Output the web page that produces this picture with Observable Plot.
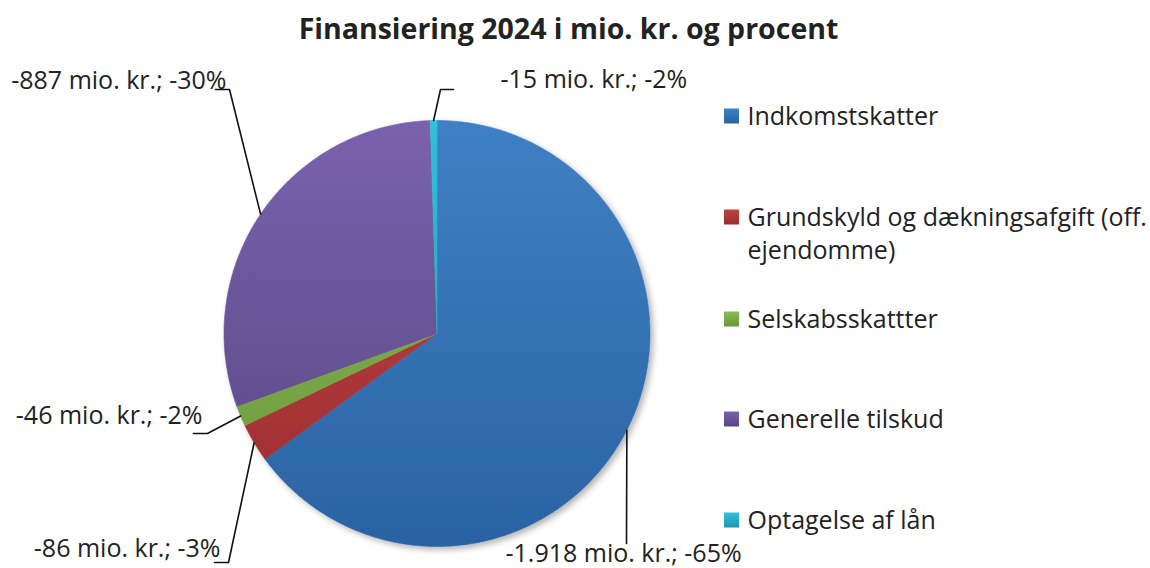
<!DOCTYPE html>
<html><head><meta charset="utf-8">
<script src="https://cdn.jsdelivr.net/npm/d3@7"></script>
<script src="https://cdn.jsdelivr.net/npm/@observablehq/plot@0.6"></script>
<style>body{margin:0;background:#fff} svg{display:block}</style>
</head><body><div id="chart"></div>
<script>
// ---- data ----
const title = "Finansiering 2024 i mio. kr. og procent";
const categories = ["Indkomstskatter", "Grundskyld og dækningsafgift (off.\nejendomme)", "Selskabsskattter", "Generelle tilskud", "Optagelse af lån"];
const values = [-1918, -86, -46, -887, -15];
const labels = ["-1.918 mio. kr.; -65%", "-86 mio. kr.; -3%", "-46 mio. kr.; -2%", "-887 mio. kr.; -30%", "-15 mio. kr.; -2%"];
const colorsTop = ["#3f80c4", "#c24241", "#89bc52", "#7a62ad", "#30c0dc"];
const colorsBottom = ["#2a63a3", "#9a2e30", "#6a963c", "#574681", "#2096b2"];

// ---- layout ----
const W = 1150, H = 568, CX = 436.5, CY = 333, R = 213;
const FONT = "'Open Sans', sans-serif";
const labelFS = 25, legendFS = 25;
const labelLayout = [
  {x: 505, y: 561, anchor: "start", elbow: [626, 543], end: [626, 543]},
  {x: 220, y: 556, anchor: "end", elbow: [228, 562], end: [214, 562]},
  {x: 202, y: 423, anchor: "end", elbow: [207, 433], end: [193, 433]},
  {x: 226, y: 88, anchor: "end", elbow: [229, 89], end: [215, 89]},
  {x: 500, y: 87, anchor: "start", elbow: [440, 89], end: [453, 89]}
];
const legendX = 724, legendSq = 15, legendTextX = 747;
const legendBaselines = [124, 225, 327, 427, 528];

// ---- geometry from data ----
const arcs = d3.pie().sort(null).value(d => Math.abs(d))(values);
const pt = (a, r) => ({x: CX + r * Math.sin(a), y: CY - r * Math.cos(a)});
const slices = arcs.map((a, i) => {
  const pts = [pt(0, 0)];
  const n = Math.max(2, Math.ceil((a.endAngle - a.startAngle) / (Math.PI / 360)));
  for (let k = 0; k <= n; k++) pts.push(pt(a.startAngle + (a.endAngle - a.startAngle) * k / n, R));
  pts.push(pt(0, 0));
  return pts.map(p => ({...p, i}));
});
const leaders = arcs.flatMap((a, i) => {
  const m = (a.startAngle + a.endAngle) / 2;
  const L = labelLayout[i];
  return [pt(m, R), {x: L.elbow[0], y: L.elbow[1]}, {x: L.end[0], y: L.end[1]}].map(p => ({...p, i}));
});
const labelData = labels.map((t, i) => ({text: t, ...labelLayout[i]}));
const legendData = categories.map((c, i) => ({
  text: c, i,
  x1: legendX, x2: legendX + legendSq,
  y1: legendBaselines[i] - 8 - legendSq / 2, y2: legendBaselines[i] - 8 + legendSq / 2,
  ty: legendBaselines[i] - 0.71 * legendFS - 5
}));

const marks = [];
slices.forEach((s, i) => marks.push(Plot.line(s, {x: "x", y: "y", fill: colorsTop[i], stroke: colorsTop[i], strokeWidth: 0.6})));
marks.push(Plot.line(leaders, {x: "x", y: "y", z: "i", stroke: "#111", strokeWidth: 1.6}));
marks.push(Plot.text(labelData.filter(d => d.anchor === "start"), {x: "x", y: "y", text: "text", textAnchor: "start", lineAnchor: "bottom", fontSize: labelFS, fill: "#222"}));
marks.push(Plot.text(labelData.filter(d => d.anchor === "end"), {x: "x", y: "y", text: "text", textAnchor: "end", lineAnchor: "bottom", fontSize: labelFS, fill: "#222"}));
legendData.forEach((d, i) => marks.push(Plot.rect([d], {x1: "x1", x2: "x2", y1: "y1", y2: "y2", fill: `url(#lg${i})`})));
marks.push(Plot.text(legendData, {x: legendTextX, y: "ty", text: "text", textAnchor: "start", lineAnchor: "top", lineHeight: 33 / legendFS, fontSize: legendFS, fill: "#222"}));
marks.push(Plot.text([title], {x: 568, y: 38, text: d => d, textAnchor: "middle", lineAnchor: "bottom", fontSize: 28.5, fontWeight: "bold", fill: "#222"}));

const chart = Plot.plot({
  width: W, height: H, margin: 0,
  x: {type: "identity", axis: null},
  y: {type: "identity", axis: null},
  style: {fontFamily: FONT, background: "#fff", overflow: "visible"},
  marks
});
document.getElementById("chart").appendChild(chart);

// gradients + soft shadow on the pie slices (the first five line marks)
const svg = d3.select(chart);
const defs = svg.insert("defs", ":first-child");
colorsTop.forEach((c, i) => {
  const g = defs.append("linearGradient").attr("id", `pg${i}`).attr("gradientUnits", "userSpaceOnUse")
    .attr("x1", 0).attr("x2", 0).attr("y1", CY - R).attr("y2", CY + R);
  g.append("stop").attr("offset", 0).attr("stop-color", c);
  g.append("stop").attr("offset", 1).attr("stop-color", colorsBottom[i]);
  const l = defs.append("linearGradient").attr("id", `lg${i}`).attr("x1", 0).attr("x2", 0).attr("y1", 0).attr("y2", 1);
  l.append("stop").attr("offset", 0).attr("stop-color", c);
  l.append("stop").attr("offset", 1).attr("stop-color", colorsBottom[i]);
});
const f = defs.append("filter").attr("id", "shadow").attr("x", "-10%").attr("y", "-10%").attr("width", "125%").attr("height", "125%");
f.append("feGaussianBlur").attr("in", "SourceAlpha").attr("stdDeviation", 3).attr("result", "b");
f.append("feOffset").attr("dx", 3).attr("dy", 3).attr("result", "o");
f.append("feComponentTransfer").attr("result", "s").append("feFuncA").attr("type", "linear").attr("slope", 0.3);
const merge = f.append("feMerge");
merge.append("feMergeNode").attr("in", "s");
merge.append("feMergeNode").attr("in", "SourceGraphic");

const lineGroups = svg.selectAll("g[aria-label='line']").nodes();
const pieGroups = lineGroups.slice(0, slices.length);
pieGroups.forEach((g, i) => {
  d3.select(g).attr("fill", `url(#pg${i})`).attr("stroke", `url(#pg${i})`);
  d3.select(g).selectAll("path").attr("fill", `url(#pg${i})`).attr("stroke", `url(#pg${i})`);
});
if (pieGroups.length) {
  const wrap = document.createElementNS("http://www.w3.org/2000/svg", "g");
  wrap.setAttribute("filter", "url(#shadow)");
  pieGroups[0].parentNode.insertBefore(wrap, pieGroups[0]);
  pieGroups.forEach(g => wrap.appendChild(g));
}
</script></body></html>
